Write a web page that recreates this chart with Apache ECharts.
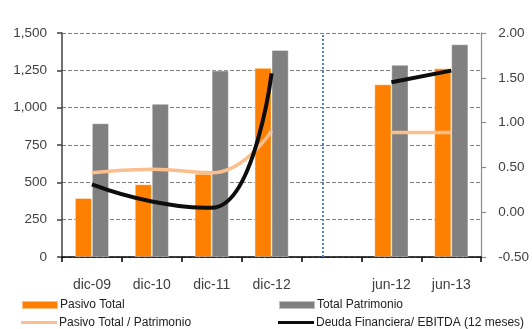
<!DOCTYPE html>
<html>
<head>
<meta charset="utf-8">
<script src="https://cdn.jsdelivr.net/npm/echarts@6/dist/echarts.min.js"></script>
<style>
  html, body { margin: 0; padding: 0; background: #fff; }
  #chart { width: 532px; height: 329px; }
</style>
</head>
<body>
<div id="chart"></div>
<script>
// Periods (the empty slot separates year-end figures from mid-year ones)
var categories = ['dic-09', 'dic-10', 'dic-11', 'dic-12', '', 'jun-12', 'jun-13'];

// Amounts in MM$ (left axis)
var pasivoTotal = [395, 487, 556, 1266, null, 1156, 1263];
var totalPatrimonio = [895, 1025, 1248, 1386, null, 1286, 1424];

// Ratios (right axis)
var pasivoSobrePatrimonio = [0.44, 0.48, 0.44, 0.91, null, 0.89, 0.89];
var deudaSobreEbitda = [0.31, 0.12, 0.05, 1.55, null, 1.45, 1.58];

var titleText = 'Endeudamiento y Patrimonio Neto (MM$)';
var FONT = '"Liberation Sans", Arial, sans-serif';
var TEXT = '#404040';

var chart = echarts.init(document.getElementById('chart'), null, { renderer: 'canvas' });

function legendBox(name, left, top, iconHeight) {
  return {
    data: [name],
    left: left,
    top: top,
    padding: 0,
    icon: 'rect',
    itemWidth: 36,
    itemHeight: iconHeight,
    itemGap: 0,
    selectedMode: false,
    textStyle: { fontFamily: FONT, fontSize: 12, color: '#222', padding: [0, 0, 0, -3] }
  };
}

chart.setOption({
  animation: false,
  backgroundColor: '#fff',
  graphic: [{
    type: 'text',
    x: 68,
    y: -10.5,
    style: {
      text: titleText,
      font: 'bold 18px ' + FONT,
      fill: '#000',
      textVerticalAlign: 'middle'
    }
  }],
  grid: { left: 62, right: 48, top: 33, bottom: 72 },
  legend: [
    legendBox('Pasivo Total', 21, 299, 8),
    legendBox('Total Patrimonio', 278, 299, 8),
    legendBox('Pasivo Total / Patrimonio', 21, 316.5, 3),
    legendBox('Deuda Financiera/ EBITDA (12 meses)', 278, 316.5, 3)
  ],
  xAxis: {
    type: 'category',
    data: categories,
    boundaryGap: true,
    axisLine: { lineStyle: { color: '#000', width: 1.5 } },
    axisTick: { show: true, length: 5, lineStyle: { color: '#000', width: 1.5 } },
    axisLabel: { margin: 21, fontFamily: FONT, fontSize: 14, color: TEXT, interval: 0 },
    splitLine: { show: false }
  },
  yAxis: [{
    type: 'value',
    min: 0,
    max: 1500,
    interval: 250,
    axisLine: { show: true, lineStyle: { color: '#404040', width: 1.5 } },
    axisTick: { show: true, length: 5, lineStyle: { color: '#404040', width: 1.5 } },
    axisLabel: {
      margin: 15, fontFamily: FONT, fontSize: 13.5, color: TEXT,
      formatter: function (v) { return v.toLocaleString('en-US'); }
    },
    splitLine: { show: true, lineStyle: { color: '#808080', type: [4, 2], width: 1 } }
  }, {
    type: 'value',
    min: -0.5,
    max: 2,
    interval: 0.5,
    position: 'right',
    axisLine: { show: true, lineStyle: { color: '#8c8c8c', width: 1.2 } },
    axisTick: { show: true, length: 5, lineStyle: { color: '#8c8c8c', width: 1.2 } },
    axisLabel: {
      margin: 17, fontFamily: FONT, fontSize: 13.5, color: TEXT,
      formatter: function (v) { return v.toFixed(2); }
    },
    splitLine: { show: false }
  }],
  series: [{
    name: 'Pasivo Total',
    type: 'bar',
    yAxisIndex: 0,
    data: pasivoTotal,
    barWidth: 17,
    barGap: '0%',
    itemStyle: { color: '#FF8000', borderColor: 'rgba(255,255,255,0.5)', borderWidth: 0.8 },
    markLine: {
      silent: true,
      symbol: ['none', 'none'],
      label: { show: false },
      lineStyle: { color: '#4F81BD', width: 2, type: [2, 2] },
      data: [{ xAxis: 4 }]
    }
  }, {
    name: 'Total Patrimonio',
    type: 'bar',
    yAxisIndex: 0,
    data: totalPatrimonio,
    barWidth: 17,
    barGap: '0%',
    itemStyle: { color: '#808080', borderColor: 'rgba(255,255,255,0.5)', borderWidth: 0.8 }
  }, {
    name: 'Pasivo Total / Patrimonio',
    type: 'line',
    yAxisIndex: 1,
    data: pasivoSobrePatrimonio,
    smooth: 0.5,
    connectNulls: false,
    symbol: 'none',
    lineStyle: { color: '#FBBF8E', width: 3.5 },
    itemStyle: { color: '#FBBF8E' },
    z: 3
  }, {
    name: 'Deuda Financiera/ EBITDA (12 meses)',
    type: 'line',
    yAxisIndex: 1,
    data: deudaSobreEbitda,
    smooth: 0.5,
    connectNulls: false,
    symbol: 'none',
    lineStyle: { color: '#0d0d0d', width: 4 },
    itemStyle: { color: '#0d0d0d' },
    z: 4
  }]
});
</script>
</body>
</html>
